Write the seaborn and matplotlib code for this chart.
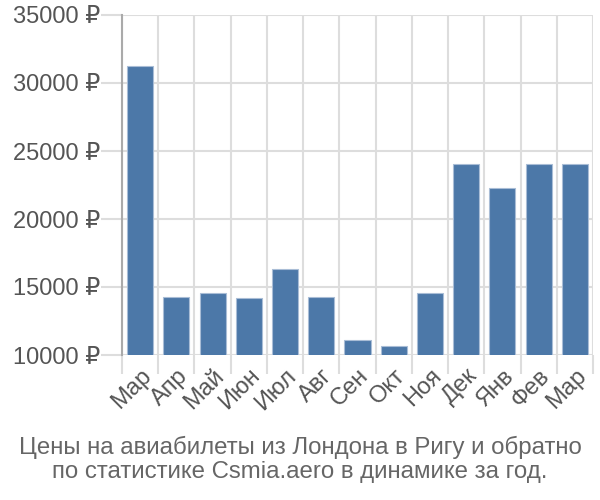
import matplotlib
matplotlib.use("Agg")
import matplotlib.pyplot as plt
import seaborn as sns
import pandas as pd
import numpy as np
from matplotlib.ticker import FixedLocator, FuncFormatter

months = ["Мар", "Апр", "Май", "Июн", "Июл", "Авг", "Сен", "Окт", "Ноя", "Дек", "Янв", "Фев", "Мар"]
prices = [31250, 14290, 14540, 14170, 16300, 14290, 11100, 10660, 14540, 24020, 22260, 24020, 24020]
yticks = [10000, 15000, 20000, 25000, 30000, 35000]
title_lines = ["Цены на авиабилеты из Лондона в Ригу и обратно",
               "по статистике Csmia.aero в динамике за год."]

sns.set_theme(style="white")
plt.rcParams["font.family"] = ["Liberation Sans", "DejaVu Sans"]

df = pd.DataFrame({"x": range(len(months)), "price": prices})

fig = plt.figure(figsize=(6, 5), dpi=100)
ax = fig.add_axes([122/600, 1-355/500, (593-122)/600, (355-15)/500])

sns.barplot(data=df, x="x", y="price", color="#4c78a8", width=0.72,
            edgecolor="#a9bdd6", linewidth=0.8, saturation=1, ax=ax, zorder=3)

ax.set_xlim(-0.5, len(months) - 0.5)
ax.set_ylim(10000, 35000)
ax.set_xlabel("")
ax.set_ylabel("")

grid_c = "#dddddd"
tick_c = "#555555"
ax.yaxis.set_major_locator(FixedLocator(yticks))
ax.yaxis.set_major_formatter(FuncFormatter(lambda v, p: f"{int(v)} ₽"))
ax.tick_params(axis="y", length=15, width=1.5, color=grid_c, labelsize=17,
               labelcolor=tick_c, pad=1, left=True)
ax.grid(axis="y", color=grid_c, linewidth=1.5, zorder=0)

ax.set_xticks(range(len(months)))
ax.set_xticklabels(months, rotation=45, ha="right", rotation_mode="anchor")
ax.tick_params(axis="x", which="major", length=0, labelsize=17, labelcolor=tick_c, pad=7)
ax.xaxis.set_minor_locator(FixedLocator(np.arange(-0.5, len(months), 1.0)))
ax.tick_params(axis="x", which="minor", length=14, width=1.5, color=grid_c, bottom=True)
ax.grid(axis="x", which="minor", color=grid_c, linewidth=1.5, zorder=0)

for s in ["top", "right", "bottom"]:
    ax.spines[s].set_visible(False)
ax.spines["left"].set_color("#aaaaaa")
ax.spines["left"].set_linewidth(1.5)

fig.text(0.5, 1-447/500, title_lines[0], ha="center", va="center", fontsize=17.3, color="#666666")
fig.text(0.5, 1-472/500, title_lines[1], ha="center", va="center", fontsize=17.3, color="#666666")

fig.savefig("out.png", dpi=100)
